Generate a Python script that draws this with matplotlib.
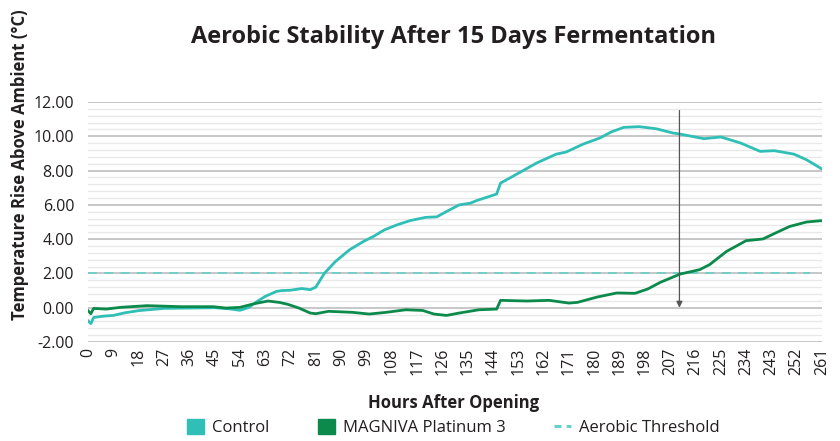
import numpy as np
import matplotlib
matplotlib.use('Agg')
import matplotlib.pyplot as plt
from matplotlib.patches import Patch
from matplotlib.lines import Line2D

# data
control_hours = [0, 1, 2, 5, 9, 13, 18, 27, 36, 45, 50, 54, 57, 60, 63, 67, 69, 72, 76, 79,
                 81, 84, 88, 93, 98, 101.5, 105.5, 110, 114.5, 120, 124, 128.5, 132, 136, 138,
                 145.3, 146.7, 151, 159.5, 166.5, 170, 176, 182, 186, 190.5, 196, 202, 208,
                 210.5, 219, 225, 232, 239, 244, 251, 255.5, 261]
control_temp = [-0.76, -0.93, -0.57, -0.50, -0.45, -0.30, -0.17, -0.04, -0.02, 0.0, -0.06, -0.15,
                0.0, 0.35, 0.66, 0.95, 1.0, 1.02, 1.12, 1.05, 1.2, 2.0, 2.7, 3.38, 3.87, 4.16,
                4.55, 4.84, 5.08, 5.27, 5.3, 5.7, 6.0, 6.1, 6.24, 6.63, 7.27, 7.66, 8.44, 8.96,
                9.08, 9.54, 9.9, 10.25, 10.52, 10.56, 10.44, 10.19, 10.13, 9.86, 9.96, 9.61,
                9.12, 9.16, 8.96, 8.63, 8.09]

magniva_hours = [0, 1, 2, 6.5, 11.5, 21, 33, 44.5, 49, 54, 59, 64, 68, 71, 75, 79, 81, 85.5,
                 94, 100, 106, 113, 119, 123, 127.5, 132, 139, 145.3, 146.7, 156, 164, 171,
                 174, 181, 188, 194.5, 199, 203.5, 210.5, 217.5, 221, 227, 234, 240, 245,
                 249.5, 255.5, 261]
magniva_temp = [-0.17, -0.35, -0.04, -0.08, 0.02, 0.12, 0.06, 0.06, -0.02, 0.02, 0.23, 0.39,
                0.31, 0.2, -0.02, -0.31, -0.35, -0.21, -0.27, -0.37, -0.27, -0.12, -0.16,
                -0.37, -0.45, -0.31, -0.12, -0.08, 0.43, 0.39, 0.43, 0.27, 0.31, 0.62, 0.86,
                0.84, 1.09, 1.48, 1.96, 2.22, 2.51, 3.28, 3.91, 4.01, 4.4, 4.74, 5.0, 5.08]

threshold = 2.0
arrow_hour = 210.3
arrow_top = 11.5

x_ticks = list(range(0, 262, 9))
y_ticks = np.arange(-2, 12.01, 2)

c_control = '#2FBFB6'
c_magniva = '#0B8A4B'
c_thresh = '#6CCFC7'
c_text = '#231F20'

plt.rcParams['font.family'] = ['Open Sans', 'DejaVu Sans']

fig = plt.figure(figsize=(8.4, 4.41), dpi=100)
ax = fig.add_axes([0.1048, 0.2245, 0.8738, 0.5442])

ax.set_xlim(0, 261)
ax.set_ylim(-2, 12)
ax.set_yticks(y_ticks)
ax.set_yticks(np.arange(-2, 12.01, 0.4), minor=True)
ax.set_yticklabels([f'{v:.2f}' for v in y_ticks], fontsize=11.5, color=c_text)
ax.set_xticks(x_ticks)
ax.set_xticklabels([str(v) for v in x_ticks], rotation=90, fontsize=11.5, color=c_text)
ax.tick_params(axis='both', which='both', length=0)
ax.tick_params(axis='y', pad=10)
ax.tick_params(axis='x', pad=4)
ax.grid(axis='y', which='major', color='#BDBDBD', lw=1.2)
ax.grid(axis='y', which='minor', color='#E8E8E8', lw=1)
ax.set_axisbelow(True)
for s in ax.spines.values():
    s.set_visible(False)

ax.axhline(threshold, xmin=0, xmax=0.984, color=c_thresh, lw=1.3, dashes=(5, 4))
ax.plot(control_hours, control_temp, color=c_control, lw=2)
ax.plot(magniva_hours, magniva_temp, color=c_magniva, lw=2)

ax.annotate('', xy=(arrow_hour, 0), xytext=(arrow_hour, arrow_top),
            arrowprops=dict(arrowstyle='-|>', color='#555555', lw=0.9, mutation_scale=9,
                            shrinkA=0, shrinkB=0))

fig.text(0.54, 0.916, 'Aerobic Stability After 15 Days Fermentation', ha='center', va='center',
         fontsize=17, fontweight='bold', color=c_text)
fig.text(0.024, 0.626, 'Temperature Rise Above Ambient (°C)', rotation=90, ha='center',
         va='center', fontsize=12, fontweight='bold', color=c_text)
fig.text(0.54, 0.086, 'Hours After Opening', ha='center', va='center', fontsize=12,
         fontweight='bold', color=c_text)

handles = [Patch(color=c_control), Patch(color=c_magniva),
           Line2D([], [], color=c_thresh, lw=2.2, dashes=(2.3, 1.7))]
fig.legend(handles, ['Control', 'MAGNIVA Platinum 3', 'Aerobic Threshold'], loc='center',
           bbox_to_anchor=(0.54, 0.03), ncol=3, frameon=False, fontsize=12,
           handlelength=1.0, handleheight=1.0, columnspacing=2.9, handletextpad=0.5,
           labelcolor=c_text)

fig.savefig('out.png', dpi=100)
